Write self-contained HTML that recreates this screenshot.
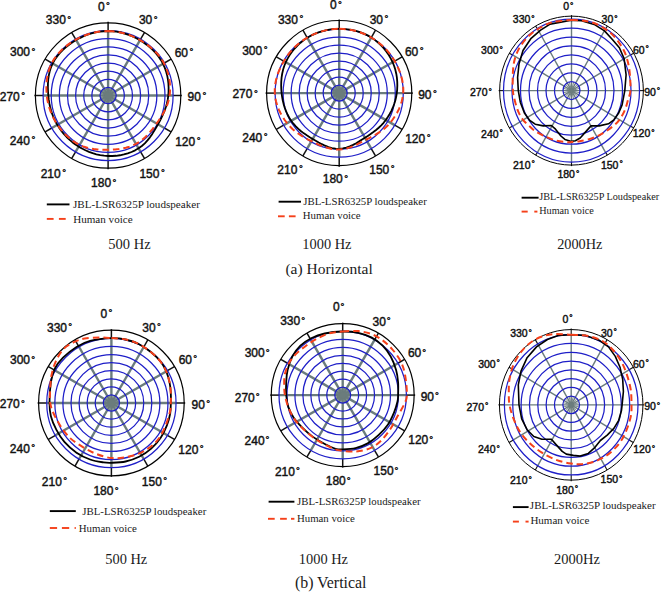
<!DOCTYPE html>
<html><head><meta charset="utf-8"><style>
html,body{margin:0;padding:0;background:#fff;}
body{width:662px;height:592px;overflow:hidden;}
svg{display:block;}
.ss text{font-family:"Liberation Sans",sans-serif;fill:#111;stroke:#111;stroke-width:0.42px;}
text.sf{font-family:"Liberation Serif",serif;fill:#1a1a1a;}
</style></head><body>
<svg width="662" height="592" viewBox="0 0 662 592">
<rect width="662" height="592" fill="#fff"/>
<line x1="108.1" y1="95.5" x2="108.1" y2="30.5" stroke="#6b7c7c" stroke-width="2.4"/>
<line x1="108.1" y1="30.5" x2="108.1" y2="21.8" stroke="#111" stroke-width="1.5"/>
<line x1="108.1" y1="95.5" x2="140.6" y2="39.21" stroke="#6b7c7c" stroke-width="2.4"/>
<line x1="140.6" y1="39.21" x2="144.45" y2="32.54" stroke="#111" stroke-width="1.5"/>
<line x1="108.1" y1="95.5" x2="164.39" y2="63" stroke="#6b7c7c" stroke-width="2.4"/>
<line x1="164.39" y1="63" x2="171.06" y2="59.15" stroke="#111" stroke-width="1.5"/>
<line x1="108.1" y1="95.5" x2="173.1" y2="95.5" stroke="#6b7c7c" stroke-width="2.4"/>
<line x1="173.1" y1="95.5" x2="181.8" y2="95.5" stroke="#111" stroke-width="1.5"/>
<line x1="108.1" y1="95.5" x2="164.39" y2="128" stroke="#6b7c7c" stroke-width="2.4"/>
<line x1="164.39" y1="128" x2="171.06" y2="131.85" stroke="#111" stroke-width="1.5"/>
<line x1="108.1" y1="95.5" x2="140.6" y2="151.79" stroke="#6b7c7c" stroke-width="2.4"/>
<line x1="140.6" y1="151.79" x2="144.45" y2="158.46" stroke="#111" stroke-width="1.5"/>
<line x1="108.1" y1="95.5" x2="108.1" y2="160.5" stroke="#6b7c7c" stroke-width="2.4"/>
<line x1="108.1" y1="160.5" x2="108.1" y2="169.2" stroke="#111" stroke-width="1.5"/>
<line x1="108.1" y1="95.5" x2="75.6" y2="151.79" stroke="#6b7c7c" stroke-width="2.4"/>
<line x1="75.6" y1="151.79" x2="71.75" y2="158.46" stroke="#111" stroke-width="1.5"/>
<line x1="108.1" y1="95.5" x2="51.81" y2="128" stroke="#6b7c7c" stroke-width="2.4"/>
<line x1="51.81" y1="128" x2="45.14" y2="131.85" stroke="#111" stroke-width="1.5"/>
<line x1="108.1" y1="95.5" x2="43.1" y2="95.5" stroke="#6b7c7c" stroke-width="2.4"/>
<line x1="43.1" y1="95.5" x2="34.4" y2="95.5" stroke="#111" stroke-width="1.5"/>
<line x1="108.1" y1="95.5" x2="51.81" y2="63" stroke="#6b7c7c" stroke-width="2.4"/>
<line x1="51.81" y1="63" x2="45.14" y2="59.15" stroke="#111" stroke-width="1.5"/>
<line x1="108.1" y1="95.5" x2="75.6" y2="39.21" stroke="#6b7c7c" stroke-width="2.4"/>
<line x1="75.6" y1="39.21" x2="71.75" y2="32.54" stroke="#111" stroke-width="1.5"/>
<line x1="108.1" y1="95.5" x2="110.2" y2="87.65" stroke="#6b7c7c" stroke-width="1.1"/>
<line x1="108.1" y1="95.5" x2="113.85" y2="89.75" stroke="#6b7c7c" stroke-width="1.1"/>
<line x1="108.1" y1="95.5" x2="115.95" y2="93.4" stroke="#6b7c7c" stroke-width="1.1"/>
<line x1="108.1" y1="95.5" x2="115.95" y2="97.6" stroke="#6b7c7c" stroke-width="1.1"/>
<line x1="108.1" y1="95.5" x2="113.85" y2="101.25" stroke="#6b7c7c" stroke-width="1.1"/>
<line x1="108.1" y1="95.5" x2="110.2" y2="103.35" stroke="#6b7c7c" stroke-width="1.1"/>
<line x1="108.1" y1="95.5" x2="106" y2="103.35" stroke="#6b7c7c" stroke-width="1.1"/>
<line x1="108.1" y1="95.5" x2="102.35" y2="101.25" stroke="#6b7c7c" stroke-width="1.1"/>
<line x1="108.1" y1="95.5" x2="100.25" y2="97.6" stroke="#6b7c7c" stroke-width="1.1"/>
<line x1="108.1" y1="95.5" x2="100.25" y2="93.4" stroke="#6b7c7c" stroke-width="1.1"/>
<line x1="108.1" y1="95.5" x2="102.35" y2="89.75" stroke="#6b7c7c" stroke-width="1.1"/>
<line x1="108.1" y1="95.5" x2="106" y2="87.65" stroke="#6b7c7c" stroke-width="1.1"/>
<ellipse cx="108.1" cy="95.5" rx="3.2" ry="3.2" fill="#6b7c7c"/>
<ellipse cx="108.1" cy="95.5" rx="8.12" ry="8.12" fill="none" stroke="#1e1ec8" stroke-width="1.25"/>
<ellipse cx="108.1" cy="95.5" rx="16.25" ry="16.25" fill="none" stroke="#1e1ec8" stroke-width="1.25"/>
<ellipse cx="108.1" cy="95.5" rx="24.38" ry="24.38" fill="none" stroke="#1e1ec8" stroke-width="1.25"/>
<ellipse cx="108.1" cy="95.5" rx="32.5" ry="32.5" fill="none" stroke="#1e1ec8" stroke-width="1.25"/>
<ellipse cx="108.1" cy="95.5" rx="40.62" ry="40.62" fill="none" stroke="#1e1ec8" stroke-width="1.25"/>
<ellipse cx="108.1" cy="95.5" rx="48.75" ry="48.75" fill="none" stroke="#1e1ec8" stroke-width="1.25"/>
<ellipse cx="108.1" cy="95.5" rx="56.88" ry="56.88" fill="none" stroke="#1e1ec8" stroke-width="1.25"/>
<ellipse cx="108.1" cy="95.5" rx="65" ry="65" fill="none" stroke="#1e1ec8" stroke-width="1.25"/>
<ellipse cx="108.1" cy="95.5" rx="72.7" ry="72.7" fill="none" stroke="#000" stroke-width="1.2"/>
<line x1="339.2" y1="93.1" x2="339.2" y2="29" stroke="#6b7c7c" stroke-width="2.4"/>
<line x1="339.2" y1="29" x2="339.2" y2="19.5" stroke="#111" stroke-width="1.5"/>
<line x1="339.2" y1="93.1" x2="371.25" y2="37.59" stroke="#6b7c7c" stroke-width="2.4"/>
<line x1="371.25" y1="37.59" x2="375.5" y2="30.23" stroke="#111" stroke-width="1.5"/>
<line x1="339.2" y1="93.1" x2="394.71" y2="61.05" stroke="#6b7c7c" stroke-width="2.4"/>
<line x1="394.71" y1="61.05" x2="402.07" y2="56.8" stroke="#111" stroke-width="1.5"/>
<line x1="339.2" y1="93.1" x2="403.3" y2="93.1" stroke="#6b7c7c" stroke-width="2.4"/>
<line x1="403.3" y1="93.1" x2="412.8" y2="93.1" stroke="#111" stroke-width="1.5"/>
<line x1="339.2" y1="93.1" x2="394.71" y2="125.15" stroke="#6b7c7c" stroke-width="2.4"/>
<line x1="394.71" y1="125.15" x2="402.07" y2="129.4" stroke="#111" stroke-width="1.5"/>
<line x1="339.2" y1="93.1" x2="371.25" y2="148.61" stroke="#6b7c7c" stroke-width="2.4"/>
<line x1="371.25" y1="148.61" x2="375.5" y2="155.97" stroke="#111" stroke-width="1.5"/>
<line x1="339.2" y1="93.1" x2="339.2" y2="157.2" stroke="#6b7c7c" stroke-width="2.4"/>
<line x1="339.2" y1="157.2" x2="339.2" y2="166.7" stroke="#111" stroke-width="1.5"/>
<line x1="339.2" y1="93.1" x2="307.15" y2="148.61" stroke="#6b7c7c" stroke-width="2.4"/>
<line x1="307.15" y1="148.61" x2="302.9" y2="155.97" stroke="#111" stroke-width="1.5"/>
<line x1="339.2" y1="93.1" x2="283.69" y2="125.15" stroke="#6b7c7c" stroke-width="2.4"/>
<line x1="283.69" y1="125.15" x2="276.33" y2="129.4" stroke="#111" stroke-width="1.5"/>
<line x1="339.2" y1="93.1" x2="275.1" y2="93.1" stroke="#6b7c7c" stroke-width="2.4"/>
<line x1="275.1" y1="93.1" x2="265.6" y2="93.1" stroke="#111" stroke-width="1.5"/>
<line x1="339.2" y1="93.1" x2="283.69" y2="61.05" stroke="#6b7c7c" stroke-width="2.4"/>
<line x1="283.69" y1="61.05" x2="276.33" y2="56.8" stroke="#111" stroke-width="1.5"/>
<line x1="339.2" y1="93.1" x2="307.15" y2="37.59" stroke="#6b7c7c" stroke-width="2.4"/>
<line x1="307.15" y1="37.59" x2="302.9" y2="30.23" stroke="#111" stroke-width="1.5"/>
<line x1="339.2" y1="93.1" x2="341.27" y2="85.36" stroke="#6b7c7c" stroke-width="1.1"/>
<line x1="339.2" y1="93.1" x2="344.87" y2="87.43" stroke="#6b7c7c" stroke-width="1.1"/>
<line x1="339.2" y1="93.1" x2="346.94" y2="91.03" stroke="#6b7c7c" stroke-width="1.1"/>
<line x1="339.2" y1="93.1" x2="346.94" y2="95.17" stroke="#6b7c7c" stroke-width="1.1"/>
<line x1="339.2" y1="93.1" x2="344.87" y2="98.77" stroke="#6b7c7c" stroke-width="1.1"/>
<line x1="339.2" y1="93.1" x2="341.27" y2="100.84" stroke="#6b7c7c" stroke-width="1.1"/>
<line x1="339.2" y1="93.1" x2="337.13" y2="100.84" stroke="#6b7c7c" stroke-width="1.1"/>
<line x1="339.2" y1="93.1" x2="333.53" y2="98.77" stroke="#6b7c7c" stroke-width="1.1"/>
<line x1="339.2" y1="93.1" x2="331.46" y2="95.17" stroke="#6b7c7c" stroke-width="1.1"/>
<line x1="339.2" y1="93.1" x2="331.46" y2="91.03" stroke="#6b7c7c" stroke-width="1.1"/>
<line x1="339.2" y1="93.1" x2="333.53" y2="87.43" stroke="#6b7c7c" stroke-width="1.1"/>
<line x1="339.2" y1="93.1" x2="337.13" y2="85.36" stroke="#6b7c7c" stroke-width="1.1"/>
<ellipse cx="339.2" cy="93.1" rx="3.2" ry="3.2" fill="#6b7c7c"/>
<ellipse cx="339.2" cy="93.1" rx="8.01" ry="8.01" fill="none" stroke="#1e1ec8" stroke-width="1.25"/>
<ellipse cx="339.2" cy="93.1" rx="16.02" ry="16.02" fill="none" stroke="#1e1ec8" stroke-width="1.25"/>
<ellipse cx="339.2" cy="93.1" rx="24.04" ry="24.04" fill="none" stroke="#1e1ec8" stroke-width="1.25"/>
<ellipse cx="339.2" cy="93.1" rx="32.05" ry="32.05" fill="none" stroke="#1e1ec8" stroke-width="1.25"/>
<ellipse cx="339.2" cy="93.1" rx="40.06" ry="40.06" fill="none" stroke="#1e1ec8" stroke-width="1.25"/>
<ellipse cx="339.2" cy="93.1" rx="48.07" ry="48.07" fill="none" stroke="#1e1ec8" stroke-width="1.25"/>
<ellipse cx="339.2" cy="93.1" rx="56.09" ry="56.09" fill="none" stroke="#1e1ec8" stroke-width="1.25"/>
<ellipse cx="339.2" cy="93.1" rx="64.1" ry="64.1" fill="none" stroke="#1e1ec8" stroke-width="1.25"/>
<ellipse cx="339.2" cy="93.1" rx="72.6" ry="72.6" fill="none" stroke="#000" stroke-width="1.2"/>
<line x1="571.5" y1="90.6" x2="571.5" y2="19.2" stroke="#6b7c7c" stroke-width="1.4"/>
<line x1="571.5" y1="19.2" x2="571.5" y2="15.1" stroke="#111" stroke-width="1.1"/>
<line x1="571.5" y1="90.6" x2="605.5" y2="28.77" stroke="#6b7c7c" stroke-width="1.4"/>
<line x1="605.5" y1="28.77" x2="607.42" y2="26.08" stroke="#111" stroke-width="1.1"/>
<line x1="571.5" y1="90.6" x2="630.39" y2="54.9" stroke="#6b7c7c" stroke-width="1.4"/>
<line x1="630.39" y1="54.9" x2="633.72" y2="53.35" stroke="#111" stroke-width="1.1"/>
<line x1="571.5" y1="90.6" x2="639.5" y2="90.6" stroke="#6b7c7c" stroke-width="1.4"/>
<line x1="639.5" y1="90.6" x2="644.35" y2="90.6" stroke="#111" stroke-width="1.1"/>
<line x1="571.5" y1="90.6" x2="630.39" y2="126.3" stroke="#6b7c7c" stroke-width="1.4"/>
<line x1="630.39" y1="126.3" x2="633.72" y2="127.85" stroke="#111" stroke-width="1.1"/>
<line x1="571.5" y1="90.6" x2="605.5" y2="152.43" stroke="#6b7c7c" stroke-width="1.4"/>
<line x1="605.5" y1="152.43" x2="607.42" y2="155.12" stroke="#111" stroke-width="1.1"/>
<line x1="571.5" y1="90.6" x2="571.5" y2="162" stroke="#6b7c7c" stroke-width="1.4"/>
<line x1="571.5" y1="162" x2="571.5" y2="166.1" stroke="#111" stroke-width="1.1"/>
<line x1="571.5" y1="90.6" x2="537.5" y2="152.43" stroke="#6b7c7c" stroke-width="1.4"/>
<line x1="537.5" y1="152.43" x2="535.58" y2="155.12" stroke="#111" stroke-width="1.1"/>
<line x1="571.5" y1="90.6" x2="512.61" y2="126.3" stroke="#6b7c7c" stroke-width="1.4"/>
<line x1="512.61" y1="126.3" x2="509.28" y2="127.85" stroke="#111" stroke-width="1.1"/>
<line x1="571.5" y1="90.6" x2="503.5" y2="90.6" stroke="#6b7c7c" stroke-width="1.4"/>
<line x1="503.5" y1="90.6" x2="498.65" y2="90.6" stroke="#111" stroke-width="1.1"/>
<line x1="571.5" y1="90.6" x2="512.61" y2="54.9" stroke="#6b7c7c" stroke-width="1.4"/>
<line x1="512.61" y1="54.9" x2="509.28" y2="53.35" stroke="#111" stroke-width="1.1"/>
<line x1="571.5" y1="90.6" x2="537.5" y2="28.77" stroke="#6b7c7c" stroke-width="1.4"/>
<line x1="537.5" y1="28.77" x2="535.57" y2="26.08" stroke="#111" stroke-width="1.1"/>
<line x1="571.5" y1="90.6" x2="573.7" y2="81.98" stroke="#6b7c7c" stroke-width="0.9"/>
<line x1="571.5" y1="90.6" x2="577.51" y2="84.29" stroke="#6b7c7c" stroke-width="0.9"/>
<line x1="571.5" y1="90.6" x2="579.71" y2="88.29" stroke="#6b7c7c" stroke-width="0.9"/>
<line x1="571.5" y1="90.6" x2="579.71" y2="92.91" stroke="#6b7c7c" stroke-width="0.9"/>
<line x1="571.5" y1="90.6" x2="577.51" y2="96.91" stroke="#6b7c7c" stroke-width="0.9"/>
<line x1="571.5" y1="90.6" x2="573.7" y2="99.22" stroke="#6b7c7c" stroke-width="0.9"/>
<line x1="571.5" y1="90.6" x2="569.3" y2="99.22" stroke="#6b7c7c" stroke-width="0.9"/>
<line x1="571.5" y1="90.6" x2="565.49" y2="96.91" stroke="#6b7c7c" stroke-width="0.9"/>
<line x1="571.5" y1="90.6" x2="563.29" y2="92.91" stroke="#6b7c7c" stroke-width="0.9"/>
<line x1="571.5" y1="90.6" x2="563.29" y2="88.29" stroke="#6b7c7c" stroke-width="0.9"/>
<line x1="571.5" y1="90.6" x2="565.49" y2="84.29" stroke="#6b7c7c" stroke-width="0.9"/>
<line x1="571.5" y1="90.6" x2="569.3" y2="81.98" stroke="#6b7c7c" stroke-width="0.9"/>
<ellipse cx="571.5" cy="90.6" rx="2.6" ry="2.7" fill="#6b7c7c"/>
<ellipse cx="571.5" cy="90.6" rx="8.5" ry="8.93" fill="none" stroke="#1e1ec8" stroke-width="1.25"/>
<ellipse cx="571.5" cy="90.6" rx="17" ry="17.85" fill="none" stroke="#1e1ec8" stroke-width="1.25"/>
<ellipse cx="571.5" cy="90.6" rx="25.5" ry="26.78" fill="none" stroke="#1e1ec8" stroke-width="1.25"/>
<ellipse cx="571.5" cy="90.6" rx="34" ry="35.7" fill="none" stroke="#1e1ec8" stroke-width="1.25"/>
<ellipse cx="571.5" cy="90.6" rx="42.5" ry="44.62" fill="none" stroke="#1e1ec8" stroke-width="1.25"/>
<ellipse cx="571.5" cy="90.6" rx="51" ry="53.55" fill="none" stroke="#1e1ec8" stroke-width="1.25"/>
<ellipse cx="571.5" cy="90.6" rx="59.5" ry="62.48" fill="none" stroke="#1e1ec8" stroke-width="1.25"/>
<ellipse cx="571.5" cy="90.6" rx="68" ry="71.4" fill="none" stroke="#1e1ec8" stroke-width="1.25"/>
<ellipse cx="571.5" cy="90.6" rx="71.85" ry="74.5" fill="none" stroke="#000" stroke-width="1.0"/>
<line x1="111.4" y1="403" x2="111.4" y2="338.35" stroke="#6b7c7c" stroke-width="2.4"/>
<line x1="111.4" y1="338.35" x2="111.4" y2="329.2" stroke="#111" stroke-width="1.5"/>
<line x1="111.4" y1="403" x2="143.72" y2="347.01" stroke="#6b7c7c" stroke-width="2.4"/>
<line x1="143.72" y1="347.01" x2="147.8" y2="339.95" stroke="#111" stroke-width="1.5"/>
<line x1="111.4" y1="403" x2="167.39" y2="370.68" stroke="#6b7c7c" stroke-width="2.4"/>
<line x1="167.39" y1="370.68" x2="174.45" y2="366.6" stroke="#111" stroke-width="1.5"/>
<line x1="111.4" y1="403" x2="176.05" y2="403" stroke="#6b7c7c" stroke-width="2.4"/>
<line x1="176.05" y1="403" x2="185.2" y2="403" stroke="#111" stroke-width="1.5"/>
<line x1="111.4" y1="403" x2="167.39" y2="435.32" stroke="#6b7c7c" stroke-width="2.4"/>
<line x1="167.39" y1="435.32" x2="174.45" y2="439.4" stroke="#111" stroke-width="1.5"/>
<line x1="111.4" y1="403" x2="143.72" y2="458.99" stroke="#6b7c7c" stroke-width="2.4"/>
<line x1="143.72" y1="458.99" x2="147.8" y2="466.05" stroke="#111" stroke-width="1.5"/>
<line x1="111.4" y1="403" x2="111.4" y2="467.65" stroke="#6b7c7c" stroke-width="2.4"/>
<line x1="111.4" y1="467.65" x2="111.4" y2="476.8" stroke="#111" stroke-width="1.5"/>
<line x1="111.4" y1="403" x2="79.07" y2="458.99" stroke="#6b7c7c" stroke-width="2.4"/>
<line x1="79.07" y1="458.99" x2="75" y2="466.05" stroke="#111" stroke-width="1.5"/>
<line x1="111.4" y1="403" x2="55.41" y2="435.33" stroke="#6b7c7c" stroke-width="2.4"/>
<line x1="55.41" y1="435.33" x2="48.35" y2="439.4" stroke="#111" stroke-width="1.5"/>
<line x1="111.4" y1="403" x2="46.75" y2="403" stroke="#6b7c7c" stroke-width="2.4"/>
<line x1="46.75" y1="403" x2="37.6" y2="403" stroke="#111" stroke-width="1.5"/>
<line x1="111.4" y1="403" x2="55.41" y2="370.68" stroke="#6b7c7c" stroke-width="2.4"/>
<line x1="55.41" y1="370.68" x2="48.35" y2="366.6" stroke="#111" stroke-width="1.5"/>
<line x1="111.4" y1="403" x2="79.07" y2="347.01" stroke="#6b7c7c" stroke-width="2.4"/>
<line x1="79.07" y1="347.01" x2="75" y2="339.95" stroke="#111" stroke-width="1.5"/>
<line x1="111.4" y1="403" x2="113.49" y2="395.19" stroke="#6b7c7c" stroke-width="1.1"/>
<line x1="111.4" y1="403" x2="117.11" y2="397.29" stroke="#6b7c7c" stroke-width="1.1"/>
<line x1="111.4" y1="403" x2="119.21" y2="400.91" stroke="#6b7c7c" stroke-width="1.1"/>
<line x1="111.4" y1="403" x2="119.21" y2="405.09" stroke="#6b7c7c" stroke-width="1.1"/>
<line x1="111.4" y1="403" x2="117.11" y2="408.71" stroke="#6b7c7c" stroke-width="1.1"/>
<line x1="111.4" y1="403" x2="113.49" y2="410.81" stroke="#6b7c7c" stroke-width="1.1"/>
<line x1="111.4" y1="403" x2="109.31" y2="410.81" stroke="#6b7c7c" stroke-width="1.1"/>
<line x1="111.4" y1="403" x2="105.69" y2="408.71" stroke="#6b7c7c" stroke-width="1.1"/>
<line x1="111.4" y1="403" x2="103.59" y2="405.09" stroke="#6b7c7c" stroke-width="1.1"/>
<line x1="111.4" y1="403" x2="103.59" y2="400.91" stroke="#6b7c7c" stroke-width="1.1"/>
<line x1="111.4" y1="403" x2="105.69" y2="397.29" stroke="#6b7c7c" stroke-width="1.1"/>
<line x1="111.4" y1="403" x2="109.31" y2="395.19" stroke="#6b7c7c" stroke-width="1.1"/>
<ellipse cx="111.4" cy="403" rx="3.2" ry="3.2" fill="#6b7c7c"/>
<ellipse cx="111.4" cy="403" rx="8.08" ry="8.08" fill="none" stroke="#1e1ec8" stroke-width="1.25"/>
<ellipse cx="111.4" cy="403" rx="16.16" ry="16.16" fill="none" stroke="#1e1ec8" stroke-width="1.25"/>
<ellipse cx="111.4" cy="403" rx="24.24" ry="24.24" fill="none" stroke="#1e1ec8" stroke-width="1.25"/>
<ellipse cx="111.4" cy="403" rx="32.33" ry="32.33" fill="none" stroke="#1e1ec8" stroke-width="1.25"/>
<ellipse cx="111.4" cy="403" rx="40.41" ry="40.41" fill="none" stroke="#1e1ec8" stroke-width="1.25"/>
<ellipse cx="111.4" cy="403" rx="48.49" ry="48.49" fill="none" stroke="#1e1ec8" stroke-width="1.25"/>
<ellipse cx="111.4" cy="403" rx="56.57" ry="56.57" fill="none" stroke="#1e1ec8" stroke-width="1.25"/>
<ellipse cx="111.4" cy="403" rx="64.65" ry="64.65" fill="none" stroke="#1e1ec8" stroke-width="1.25"/>
<ellipse cx="111.4" cy="403" rx="72.8" ry="72.8" fill="none" stroke="#000" stroke-width="1.2"/>
<line x1="342.7" y1="395.1" x2="342.7" y2="331.4" stroke="#6b7c7c" stroke-width="2.4"/>
<line x1="342.7" y1="331.4" x2="342.7" y2="322.65" stroke="#111" stroke-width="1.5"/>
<line x1="342.7" y1="395.1" x2="374.55" y2="339.93" stroke="#6b7c7c" stroke-width="2.4"/>
<line x1="374.55" y1="339.93" x2="378.42" y2="333.22" stroke="#111" stroke-width="1.5"/>
<line x1="342.7" y1="395.1" x2="397.87" y2="363.25" stroke="#6b7c7c" stroke-width="2.4"/>
<line x1="397.87" y1="363.25" x2="404.58" y2="359.38" stroke="#111" stroke-width="1.5"/>
<line x1="342.7" y1="395.1" x2="406.4" y2="395.1" stroke="#6b7c7c" stroke-width="2.4"/>
<line x1="406.4" y1="395.1" x2="415.15" y2="395.1" stroke="#111" stroke-width="1.5"/>
<line x1="342.7" y1="395.1" x2="397.87" y2="426.95" stroke="#6b7c7c" stroke-width="2.4"/>
<line x1="397.87" y1="426.95" x2="404.58" y2="430.82" stroke="#111" stroke-width="1.5"/>
<line x1="342.7" y1="395.1" x2="374.55" y2="450.27" stroke="#6b7c7c" stroke-width="2.4"/>
<line x1="374.55" y1="450.27" x2="378.42" y2="456.98" stroke="#111" stroke-width="1.5"/>
<line x1="342.7" y1="395.1" x2="342.7" y2="458.8" stroke="#6b7c7c" stroke-width="2.4"/>
<line x1="342.7" y1="458.8" x2="342.7" y2="467.55" stroke="#111" stroke-width="1.5"/>
<line x1="342.7" y1="395.1" x2="310.85" y2="450.27" stroke="#6b7c7c" stroke-width="2.4"/>
<line x1="310.85" y1="450.27" x2="306.97" y2="456.98" stroke="#111" stroke-width="1.5"/>
<line x1="342.7" y1="395.1" x2="287.53" y2="426.95" stroke="#6b7c7c" stroke-width="2.4"/>
<line x1="287.53" y1="426.95" x2="280.82" y2="430.83" stroke="#111" stroke-width="1.5"/>
<line x1="342.7" y1="395.1" x2="279" y2="395.1" stroke="#6b7c7c" stroke-width="2.4"/>
<line x1="279" y1="395.1" x2="270.25" y2="395.1" stroke="#111" stroke-width="1.5"/>
<line x1="342.7" y1="395.1" x2="287.53" y2="363.25" stroke="#6b7c7c" stroke-width="2.4"/>
<line x1="287.53" y1="363.25" x2="280.82" y2="359.38" stroke="#111" stroke-width="1.5"/>
<line x1="342.7" y1="395.1" x2="310.85" y2="339.93" stroke="#6b7c7c" stroke-width="2.4"/>
<line x1="310.85" y1="339.93" x2="306.97" y2="333.22" stroke="#111" stroke-width="1.5"/>
<line x1="342.7" y1="395.1" x2="344.76" y2="387.41" stroke="#6b7c7c" stroke-width="1.1"/>
<line x1="342.7" y1="395.1" x2="348.33" y2="389.47" stroke="#6b7c7c" stroke-width="1.1"/>
<line x1="342.7" y1="395.1" x2="350.39" y2="393.04" stroke="#6b7c7c" stroke-width="1.1"/>
<line x1="342.7" y1="395.1" x2="350.39" y2="397.16" stroke="#6b7c7c" stroke-width="1.1"/>
<line x1="342.7" y1="395.1" x2="348.33" y2="400.73" stroke="#6b7c7c" stroke-width="1.1"/>
<line x1="342.7" y1="395.1" x2="344.76" y2="402.79" stroke="#6b7c7c" stroke-width="1.1"/>
<line x1="342.7" y1="395.1" x2="340.64" y2="402.79" stroke="#6b7c7c" stroke-width="1.1"/>
<line x1="342.7" y1="395.1" x2="337.07" y2="400.73" stroke="#6b7c7c" stroke-width="1.1"/>
<line x1="342.7" y1="395.1" x2="335.01" y2="397.16" stroke="#6b7c7c" stroke-width="1.1"/>
<line x1="342.7" y1="395.1" x2="335.01" y2="393.04" stroke="#6b7c7c" stroke-width="1.1"/>
<line x1="342.7" y1="395.1" x2="337.07" y2="389.47" stroke="#6b7c7c" stroke-width="1.1"/>
<line x1="342.7" y1="395.1" x2="340.64" y2="387.41" stroke="#6b7c7c" stroke-width="1.1"/>
<ellipse cx="342.7" cy="395.1" rx="3.2" ry="3.2" fill="#6b7c7c"/>
<ellipse cx="342.7" cy="395.1" rx="7.96" ry="7.96" fill="none" stroke="#1e1ec8" stroke-width="1.25"/>
<ellipse cx="342.7" cy="395.1" rx="15.93" ry="15.93" fill="none" stroke="#1e1ec8" stroke-width="1.25"/>
<ellipse cx="342.7" cy="395.1" rx="23.89" ry="23.89" fill="none" stroke="#1e1ec8" stroke-width="1.25"/>
<ellipse cx="342.7" cy="395.1" rx="31.85" ry="31.85" fill="none" stroke="#1e1ec8" stroke-width="1.25"/>
<ellipse cx="342.7" cy="395.1" rx="39.81" ry="39.81" fill="none" stroke="#1e1ec8" stroke-width="1.25"/>
<ellipse cx="342.7" cy="395.1" rx="47.78" ry="47.78" fill="none" stroke="#1e1ec8" stroke-width="1.25"/>
<ellipse cx="342.7" cy="395.1" rx="55.74" ry="55.74" fill="none" stroke="#1e1ec8" stroke-width="1.25"/>
<ellipse cx="342.7" cy="395.1" rx="63.7" ry="63.7" fill="none" stroke="#1e1ec8" stroke-width="1.25"/>
<ellipse cx="342.7" cy="395.1" rx="71.45" ry="71.45" fill="none" stroke="#000" stroke-width="1.2"/>
<line x1="571.2" y1="404.85" x2="571.2" y2="334.71" stroke="#6b7c7c" stroke-width="1.4"/>
<line x1="571.2" y1="334.71" x2="571.2" y2="328.55" stroke="#111" stroke-width="1.1"/>
<line x1="571.2" y1="404.85" x2="604.6" y2="344.11" stroke="#6b7c7c" stroke-width="1.4"/>
<line x1="604.6" y1="344.11" x2="607.08" y2="339.64" stroke="#111" stroke-width="1.1"/>
<line x1="571.2" y1="404.85" x2="629.05" y2="369.78" stroke="#6b7c7c" stroke-width="1.4"/>
<line x1="629.05" y1="369.78" x2="633.34" y2="367.2" stroke="#111" stroke-width="1.1"/>
<line x1="571.2" y1="404.85" x2="638" y2="404.85" stroke="#6b7c7c" stroke-width="1.4"/>
<line x1="638" y1="404.85" x2="643.95" y2="404.85" stroke="#111" stroke-width="1.1"/>
<line x1="571.2" y1="404.85" x2="629.05" y2="439.92" stroke="#6b7c7c" stroke-width="1.4"/>
<line x1="629.05" y1="439.92" x2="633.34" y2="442.5" stroke="#111" stroke-width="1.1"/>
<line x1="571.2" y1="404.85" x2="604.6" y2="465.59" stroke="#6b7c7c" stroke-width="1.4"/>
<line x1="604.6" y1="465.59" x2="607.08" y2="470.06" stroke="#111" stroke-width="1.1"/>
<line x1="571.2" y1="404.85" x2="571.2" y2="474.99" stroke="#6b7c7c" stroke-width="1.4"/>
<line x1="571.2" y1="474.99" x2="571.2" y2="481.15" stroke="#111" stroke-width="1.1"/>
<line x1="571.2" y1="404.85" x2="537.8" y2="465.59" stroke="#6b7c7c" stroke-width="1.4"/>
<line x1="537.8" y1="465.59" x2="535.33" y2="470.06" stroke="#111" stroke-width="1.1"/>
<line x1="571.2" y1="404.85" x2="513.35" y2="439.92" stroke="#6b7c7c" stroke-width="1.4"/>
<line x1="513.35" y1="439.92" x2="509.06" y2="442.5" stroke="#111" stroke-width="1.1"/>
<line x1="571.2" y1="404.85" x2="504.4" y2="404.85" stroke="#6b7c7c" stroke-width="1.4"/>
<line x1="504.4" y1="404.85" x2="498.45" y2="404.85" stroke="#111" stroke-width="1.1"/>
<line x1="571.2" y1="404.85" x2="513.35" y2="369.78" stroke="#6b7c7c" stroke-width="1.4"/>
<line x1="513.35" y1="369.78" x2="509.06" y2="367.2" stroke="#111" stroke-width="1.1"/>
<line x1="571.2" y1="404.85" x2="537.8" y2="344.11" stroke="#6b7c7c" stroke-width="1.4"/>
<line x1="537.8" y1="344.11" x2="535.33" y2="339.64" stroke="#111" stroke-width="1.1"/>
<line x1="571.2" y1="404.85" x2="573.36" y2="396.38" stroke="#6b7c7c" stroke-width="0.9"/>
<line x1="571.2" y1="404.85" x2="577.1" y2="398.65" stroke="#6b7c7c" stroke-width="0.9"/>
<line x1="571.2" y1="404.85" x2="579.27" y2="402.58" stroke="#6b7c7c" stroke-width="0.9"/>
<line x1="571.2" y1="404.85" x2="579.27" y2="407.12" stroke="#6b7c7c" stroke-width="0.9"/>
<line x1="571.2" y1="404.85" x2="577.1" y2="411.05" stroke="#6b7c7c" stroke-width="0.9"/>
<line x1="571.2" y1="404.85" x2="573.36" y2="413.32" stroke="#6b7c7c" stroke-width="0.9"/>
<line x1="571.2" y1="404.85" x2="569.04" y2="413.32" stroke="#6b7c7c" stroke-width="0.9"/>
<line x1="571.2" y1="404.85" x2="565.3" y2="411.05" stroke="#6b7c7c" stroke-width="0.9"/>
<line x1="571.2" y1="404.85" x2="563.13" y2="407.12" stroke="#6b7c7c" stroke-width="0.9"/>
<line x1="571.2" y1="404.85" x2="563.13" y2="402.58" stroke="#6b7c7c" stroke-width="0.9"/>
<line x1="571.2" y1="404.85" x2="565.3" y2="398.65" stroke="#6b7c7c" stroke-width="0.9"/>
<line x1="571.2" y1="404.85" x2="569.04" y2="396.38" stroke="#6b7c7c" stroke-width="0.9"/>
<ellipse cx="571.2" cy="404.85" rx="2.6" ry="2.7" fill="#6b7c7c"/>
<ellipse cx="571.2" cy="404.85" rx="8.35" ry="8.77" fill="none" stroke="#1e1ec8" stroke-width="1.25"/>
<ellipse cx="571.2" cy="404.85" rx="16.7" ry="17.54" fill="none" stroke="#1e1ec8" stroke-width="1.25"/>
<ellipse cx="571.2" cy="404.85" rx="25.05" ry="26.3" fill="none" stroke="#1e1ec8" stroke-width="1.25"/>
<ellipse cx="571.2" cy="404.85" rx="33.4" ry="35.07" fill="none" stroke="#1e1ec8" stroke-width="1.25"/>
<ellipse cx="571.2" cy="404.85" rx="41.75" ry="43.84" fill="none" stroke="#1e1ec8" stroke-width="1.25"/>
<ellipse cx="571.2" cy="404.85" rx="50.1" ry="52.6" fill="none" stroke="#1e1ec8" stroke-width="1.25"/>
<ellipse cx="571.2" cy="404.85" rx="58.45" ry="61.37" fill="none" stroke="#1e1ec8" stroke-width="1.25"/>
<ellipse cx="571.2" cy="404.85" rx="66.8" ry="70.14" fill="none" stroke="#1e1ec8" stroke-width="1.25"/>
<ellipse cx="571.2" cy="404.85" rx="71.75" ry="75.3" fill="none" stroke="#000" stroke-width="1.0"/>
<path d="M108.1,31.1 L112.31,31.27 L116.49,31.73 L120.63,32.49 L124.7,33.54 L128.69,34.85 L132.58,36.41 L136.35,38.21 L140,40.25 L143.52,42.49 L146.91,44.92 L150.14,47.56 L153.19,50.41 L156.03,53.47 L158.63,56.73 L160.97,60.18 L163.01,63.8 L164.72,67.58 L166.1,71.47 L167.17,75.45 L167.93,79.47 L168.4,83.51 L168.6,87.53 L168.56,91.54 L168.3,95.5 L167.78,99.41 L166.96,103.25 L165.89,106.99 L164.59,110.64 L163.13,114.18 L161.51,117.62 L159.79,120.99 L157.98,124.3 L156.13,127.59 L154.21,130.88 L152.16,134.14 L149.94,137.34 L147.49,140.42 L144.8,143.33 L141.83,145.99 L138.6,148.33 L135.14,150.33 L131.51,152.02 L127.75,153.4 L123.9,154.48 L119.99,155.26 L116.03,155.77 L112.07,156.01 L108.1,156 L104.15,155.72 L100.25,155.15 L96.4,154.31 L92.64,153.2 L88.97,151.86 L85.4,150.3 L81.94,148.54 L78.6,146.6 L75.38,144.47 L72.3,142.16 L69.37,139.66 L66.6,137 L64,134.18 L61.57,131.2 L59.32,128.09 L57.26,124.85 L55.41,121.48 L53.77,118 L52.35,114.42 L51.14,110.76 L50.14,107.03 L49.33,103.24 L48.72,99.39 L48.3,95.5 L48.02,91.56 L47.89,87.57 L47.95,83.53 L48.24,79.46 L48.83,75.38 L49.74,71.32 L51.01,67.35 L52.67,63.5 L54.72,59.83 L57.1,56.37 L59.76,53.11 L62.68,50.08 L65.8,47.27 L69.1,44.67 L72.54,42.28 L76.1,40.07 L79.78,38.07 L83.57,36.28 L87.47,34.74 L91.47,33.45 L95.55,32.43 L99.7,31.69 L103.89,31.24Z" fill="none" stroke="#000" stroke-width="1.8" stroke-linejoin="round"/>
<path d="M108.1,31.1 L112.31,31.28 L116.49,31.75 L120.63,32.5 L124.71,33.52 L128.7,34.8 L132.61,36.33 L136.41,38.09 L140.1,40.07 L143.68,42.25 L147.15,44.61 L150.48,47.18 L153.65,49.95 L156.62,52.95 L159.35,56.17 L161.81,59.61 L163.96,63.25 L165.78,67.06 L167.28,70.99 L168.46,75.01 L169.32,79.1 L169.85,83.22 L170.07,87.34 L169.99,91.44 L169.6,95.5 L168.86,99.48 L167.76,103.35 L166.34,107.09 L164.67,110.66 L162.81,114.07 L160.81,117.33 L158.73,120.47 L156.6,123.5 L154.45,126.47 L152.23,129.37 L149.93,132.18 L147.49,134.89 L144.9,137.46 L142.13,139.85 L139.18,142.02 L136.05,143.91 L132.75,145.49 L129.34,146.78 L125.85,147.79 L122.32,148.55 L118.76,149.1 L115.2,149.47 L111.65,149.69 L108.1,149.8 L104.54,149.82 L100.96,149.73 L97.36,149.49 L93.75,149.07 L90.14,148.42 L86.55,147.52 L83.03,146.34 L79.6,144.86 L76.3,143.09 L73.14,141.06 L70.13,138.8 L67.27,136.33 L64.57,133.67 L62.04,130.85 L59.66,127.87 L57.44,124.75 L55.38,121.5 L53.51,118.11 L51.84,114.6 L50.37,110.97 L49.13,107.23 L48.11,103.4 L47.33,99.48 L46.8,95.5 L46.48,91.46 L46.37,87.37 L46.5,83.25 L46.9,79.1 L47.61,74.97 L48.65,70.87 L50.04,66.87 L51.81,63 L53.94,59.31 L56.4,55.83 L59.15,52.57 L62.15,49.55 L65.35,46.75 L68.72,44.17 L72.23,41.81 L75.85,39.64 L79.59,37.68 L83.43,35.95 L87.38,34.47 L91.42,33.25 L95.53,32.3 L99.69,31.61 L103.89,31.21Z" fill="none" stroke="#f5401a" stroke-width="2.0" stroke-dasharray="6.5 4"/>
<path d="M339.2,28.8 L343.41,28.91 L347.6,29.28 L351.76,29.93 L355.88,30.86 L359.91,32.08 L363.85,33.6 L367.65,35.4 L371.3,37.5 L374.76,39.87 L378.03,42.5 L381.07,45.35 L383.89,48.41 L386.46,51.65 L388.78,55.06 L390.84,58.6 L392.63,62.25 L394.14,66 L395.35,69.84 L396.27,73.73 L396.9,77.64 L397.25,81.55 L397.34,85.45 L397.18,89.3 L396.8,93.1 L396.18,96.83 L395.31,100.49 L394.21,104.04 L392.89,107.49 L391.38,110.81 L389.68,114.01 L387.81,117.07 L385.79,120 L383.6,122.77 L381.22,125.34 L378.7,127.74 L376.08,129.98 L373.37,132.06 L370.6,134.02 L367.79,135.89 L364.95,137.7 L362.09,139.52 L359.2,141.38 L356.2,143.19 L353.08,144.9 L349.8,146.4 L346.38,147.61 L342.83,148.44 L339.2,148.8 L335.56,148.64 L331.97,148.02 L328.48,147.01 L325.1,145.71 L321.86,144.18 L318.73,142.51 L315.7,140.76 L312.7,139 L309.72,137.22 L306.79,135.34 L303.9,133.35 L301.09,131.21 L298.38,128.9 L295.81,126.4 L293.41,123.7 L291.22,120.8 L289.27,117.72 L287.54,114.5 L286.02,111.15 L284.73,107.7 L283.64,104.15 L282.77,100.53 L282.09,96.84 L281.6,93.1 L281.29,89.3 L281.16,85.46 L281.25,81.57 L281.58,77.66 L282.18,73.74 L283.06,69.85 L284.25,66 L285.77,62.25 L287.58,58.61 L289.67,55.1 L292.03,51.73 L294.63,48.53 L297.47,45.52 L300.53,42.71 L303.8,40.12 L307.25,37.76 L310.88,35.66 L314.66,33.84 L318.56,32.3 L322.57,31.05 L326.66,30.07 L330.81,29.37 L335,28.95Z" fill="none" stroke="#000" stroke-width="1.8" stroke-linejoin="round"/>
<path d="M339.2,28.8 L343.41,28.93 L347.59,29.34 L351.74,30.04 L355.84,31.01 L359.86,32.25 L363.78,33.75 L367.6,35.5 L371.3,37.5 L374.86,39.74 L378.25,42.2 L381.48,44.89 L384.52,47.78 L387.37,50.86 L390,54.12 L392.43,57.53 L394.63,61.1 L396.62,64.78 L398.42,68.57 L400,72.46 L401.31,76.46 L402.32,80.54 L403,84.7 L403.3,88.9 L403.2,93.1 L402.68,97.26 L401.77,101.34 L400.5,105.29 L398.92,109.1 L397.07,112.74 L394.99,116.21 L392.72,119.49 L390.3,122.6 L387.68,125.49 L384.84,128.12 L381.85,130.5 L378.74,132.64 L375.59,134.59 L372.41,136.38 L369.24,138.06 L366.1,139.69 L362.98,141.33 L359.86,142.97 L356.67,144.57 L353.39,146.06 L350,147.38 L346.49,148.44 L342.87,149.17 L339.2,149.5 L335.51,149.4 L331.85,148.91 L328.26,148.1 L324.75,147.02 L321.33,145.73 L317.99,144.3 L314.71,142.76 L311.45,141.16 L308.19,139.52 L304.93,137.76 L301.7,135.86 L298.52,133.78 L295.42,131.49 L292.45,128.97 L289.65,126.21 L287.07,123.2 L284.69,119.98 L282.48,116.59 L280.47,113.04 L278.71,109.31 L277.22,105.43 L276.05,101.41 L275.23,97.29 L274.8,93.1 L274.78,88.88 L275.16,84.67 L275.91,80.51 L276.99,76.43 L278.36,72.45 L279.99,68.57 L281.83,64.81 L283.86,61.15 L286.08,57.61 L288.52,54.21 L291.17,50.98 L294.02,47.92 L297.05,45.04 L300.27,42.37 L303.66,39.91 L307.2,37.67 L310.88,35.67 L314.68,33.91 L318.59,32.39 L322.59,31.12 L326.67,30.13 L330.81,29.4 L335,28.96Z" fill="none" stroke="#f5401a" stroke-width="2.0" stroke-dasharray="6.5 4"/>
<path d="M571.4,20.1 L581.5,20.8 L595,24.8 L604.5,30.9 L612.6,39.7 L619.4,47.8 L624.1,58.6 L626.1,74.8 L624.8,90.6 L622.1,104.9 L618.7,113 L613.9,119.8 L608.5,123.8 L599.1,125.9 L591,125.9 L585.6,131.9 L580.2,138 L575.4,140.7 L571.4,141.4 L564.9,139.4 L560.9,136 L555.5,129.2 L551.4,125.5 L543.3,125.9 L535.2,124.2 L529.8,120.5 L524.4,113 L520.3,102.2 L518.3,90.6 L517.6,77.5 L519,64 L523,50.5 L531.1,38.3 L540.6,30.2 L550.1,24.1Z" fill="none" stroke="#000" stroke-width="1.6" stroke-linejoin="round"/>
<path d="M571.4,20.1C577.32,19.98 583.23,20.28 588.3,21.4C593.37,22.52 597.75,24.55 601.8,26.8C605.85,29.05 609.45,31.85 612.6,34.9C615.75,37.95 618.45,41.6 620.7,45.1C622.95,48.6 624.63,51.62 626.1,55.9C627.57,60.18 628.78,65.03 629.5,70.8C630.22,76.57 630.63,85.72 630.4,90.5C630.17,95.28 629.03,96.2 628.1,99.5C627.17,102.8 626.25,106.92 624.8,110.3C623.35,113.68 621.43,117.1 619.4,119.8C617.37,122.5 615.77,124.03 612.6,126.5C609.43,128.97 604.45,132.45 600.4,134.6C596.35,136.75 591.9,138.27 588.3,139.4C584.7,140.53 581.62,140.95 578.8,141.4C575.98,141.85 573.48,141.98 571.4,142.1C569.32,142.22 568.73,142.33 566.3,142.1C563.87,141.87 559.95,141.48 556.8,140.7C553.65,139.92 550.78,138.85 547.4,137.4C544.02,135.95 539.43,133.82 536.5,132C533.57,130.18 532.05,128.53 529.8,126.5C527.55,124.47 524.92,122.27 523,119.8C521.08,117.33 519.65,114.85 518.3,111.7C516.95,108.55 515.8,104.42 514.9,100.9C514,97.38 513.23,95.4 512.9,90.6C512.57,85.8 512.57,77.43 512.9,72.1C513.23,66.77 513.67,62.88 514.9,58.6C516.13,54.32 517.82,50.33 520.3,46.4C522.78,42.47 526.42,38.15 529.8,35C533.18,31.85 536.77,29.65 540.6,27.5C544.43,25.35 547.67,23.33 552.8,22.1C557.93,20.87 565.48,20.22 571.4,20.1Z" fill="none" stroke="#f5401a" stroke-width="2.0" stroke-dasharray="6.5 4"/>
<path d="M111.4,338.1C117.32,337.88 120.98,338.48 125.6,339.5C130.22,340.52 134.83,342.07 139.1,344.2C143.37,346.33 147.6,349.37 151.2,352.3C154.8,355.23 158.22,358.65 160.7,361.8C163.18,364.95 164.63,367.82 166.1,371.2C167.57,374.58 168.72,378.48 169.5,382.1C170.28,385.72 170.58,389.42 170.8,392.9C171.02,396.38 170.9,399.57 170.8,403C170.7,406.43 170.87,409.72 170.2,413.5C169.53,417.28 168.38,421.65 166.8,425.7C165.22,429.75 163.3,433.98 160.7,437.8C158.1,441.62 154.8,445.43 151.2,448.6C147.6,451.77 143.37,454.65 139.1,456.8C134.83,458.95 130.22,460.5 125.6,461.5C120.98,462.5 115.07,462.65 111.4,462.8C107.73,462.95 107.15,462.95 103.6,462.4C100.05,461.85 94.62,461.12 90.1,459.5C85.58,457.88 80.78,455.63 76.5,452.7C72.22,449.77 67.77,445.73 64.4,441.9C61.03,438.07 58.55,433.98 56.3,429.7C54.05,425.42 52.03,420.65 50.9,416.2C49.77,411.75 49.5,408.68 49.5,403C49.5,397.32 50,387.85 50.9,382.1C51.8,376.35 52.88,372.57 54.9,368.5C56.92,364.43 59.4,361.3 63,357.7C66.6,354.1 71.98,349.72 76.5,346.9C81.02,344.08 84.28,342.27 90.1,340.8C95.92,339.33 105.48,338.32 111.4,338.1Z" fill="none" stroke="#000" stroke-width="1.8" stroke-linejoin="round"/>
<path d="M111.4,338.1C115.75,338.43 120.98,338.48 125.6,339.5C130.22,340.52 134.83,342.07 139.1,344.2C143.37,346.33 147.6,349.37 151.2,352.3C154.8,355.23 158.22,358.65 160.7,361.8C163.18,364.95 164.63,367.82 166.1,371.2C167.57,374.58 168.72,378.48 169.5,382.1C170.28,385.72 170.58,389.42 170.8,392.9C171.02,396.38 170.9,400.02 170.8,403C170.7,405.98 170.98,407.25 170.2,410.8C169.42,414.35 167.9,419.8 166.1,424.3C164.3,428.8 162.1,433.97 159.4,437.8C156.7,441.63 153.52,444.58 149.9,447.3C146.28,450.02 141.98,452.42 137.7,454.1C133.42,455.78 128.58,456.73 124.2,457.4C119.82,458.07 115.97,458.65 111.4,458.1C106.83,457.55 101.48,455.9 96.8,454.1C92.12,452.3 87.8,450.02 83.3,447.3C78.8,444.58 73.63,441.4 69.8,437.8C65.97,434.2 63,429.75 60.3,425.7C57.6,421.65 55.28,417.28 53.6,413.5C51.92,409.72 50.77,407.12 50.2,403C49.63,398.88 49.98,393.42 50.2,388.8C50.42,384.18 50.6,379.8 51.5,375.3C52.4,370.8 53.68,366.08 55.6,361.8C57.52,357.52 59.97,352.87 63,349.6C66.03,346.33 70.2,344.05 73.8,342.2C77.4,340.35 80.32,339.28 84.6,338.5C88.88,337.72 95.03,337.57 99.5,337.5C103.97,337.43 107.05,337.77 111.4,338.1Z" fill="none" stroke="#f5401a" stroke-width="2.0" stroke-dasharray="6.5 4"/>
<path d="M342.7,331.5C348.28,331.38 353.45,331.78 358.3,332.8C363.15,333.82 367.75,335.45 371.8,337.6C375.85,339.75 379.45,342.55 382.6,345.7C385.75,348.85 388.45,352.45 390.7,356.5C392.95,360.55 394.87,365.72 396.1,370C397.33,374.28 397.77,378.03 398.1,382.2C398.43,386.37 398.2,391.78 398.1,395C398,398.22 398.17,398.62 397.5,401.5C396.83,404.38 395.68,408.48 394.1,412.3C392.52,416.12 390.6,420.58 388,424.4C385.4,428.22 381.88,432.03 378.5,435.2C375.12,438.37 371.52,441.25 367.7,443.4C363.88,445.55 359.77,447.1 355.6,448.1C351.43,449.1 346.03,449.28 342.7,449.4C339.37,449.52 338.58,449.7 335.6,448.8C332.62,447.9 328.63,446.03 324.8,444C320.97,441.97 316.43,439.42 312.6,436.6C308.77,433.78 304.95,430.25 301.8,427.1C298.65,423.95 295.95,421.07 293.7,417.7C291.45,414.33 289.55,410.68 288.3,406.9C287.05,403.12 286.55,399.12 286.2,395C285.85,390.88 285.97,386.37 286.2,382.2C286.43,378.03 286.58,374.28 287.6,370C288.62,365.72 290.17,360.55 292.3,356.5C294.43,352.45 297.25,348.75 300.4,345.7C303.55,342.65 307.13,340.23 311.2,338.2C315.27,336.17 319.55,334.62 324.8,333.5C330.05,332.38 337.12,331.62 342.7,331.5Z" fill="none" stroke="#000" stroke-width="1.8" stroke-linejoin="round"/>
<path d="M342.7,331.5C347.62,331.1 353.45,330.65 358.3,331.1C363.15,331.55 367.75,332.67 371.8,334.2C375.85,335.73 379.22,337.82 382.6,340.3C385.98,342.78 389.17,345.73 392.1,349.1C395.03,352.47 398.07,356.33 400.2,360.5C402.33,364.67 403.78,368.35 404.9,374.1C406.02,379.85 407.02,389.98 406.9,395C406.78,400.02 405.77,400.65 404.2,404.2C402.63,407.75 399.75,412.25 397.5,416.3C395.25,420.35 393.42,424.45 390.7,428.5C387.98,432.55 384.58,437.33 381.2,440.6C377.82,443.87 374.67,446.28 370.4,448.1C366.13,449.92 361,451.17 355.6,451.5C350.2,451.83 343.13,451.27 338,450.1C332.87,448.93 329.03,446.68 324.8,444.5C320.57,442.32 316.43,439.83 312.6,437C308.77,434.17 304.95,430.67 301.8,427.5C298.65,424.33 295.95,421.42 293.7,418C291.45,414.58 289.77,410.83 288.3,407C286.83,403.17 285.58,398.68 284.9,395C284.22,391.32 284.2,388.38 284.2,384.9C284.2,381.42 284,377.93 284.9,374.1C285.8,370.27 287.47,365.52 289.6,361.9C291.73,358.28 294.77,355.22 297.7,352.4C300.63,349.58 304.05,347.25 307.2,345C310.35,342.75 313,340.82 316.6,338.9C320.2,336.98 324.45,334.73 328.8,333.5C333.15,332.27 337.78,331.9 342.7,331.5Z" fill="none" stroke="#f5401a" stroke-width="2.0" stroke-dasharray="6.5 4"/>
<path d="M571.4,334.8 L585.6,335.4 L599.1,340.2 L608.5,346.9 L615.3,356.4 L620,367.2 L622.7,379.4 L623.4,391.5 L622.1,404.8 L621.4,410.8 L618.7,420.3 L613.9,428.4 L607.2,435.1 L600.4,440.5 L595,447.3 L588.3,453.4 L580.2,456.1 L573.4,455.4 L566.3,454.1 L562.2,451.4 L556.1,444.6 L551.4,439.2 L541.9,439.2 L533.8,436.5 L527.1,429.7 L521.7,418.9 L519,404.9 L518.3,384.8 L521,371.2 L527.1,357.7 L536.5,346.9 L547.4,339.5 L558.2,335.4Z" fill="none" stroke="#000" stroke-width="1.6" stroke-linejoin="round"/>
<path d="M571.4,334.8C577.32,335.13 583.02,334.98 588.3,336.1C593.58,337.22 598.83,339.02 603.1,341.5C607.37,343.98 610.73,347.4 613.9,351C617.07,354.6 619.83,358.83 622.1,363.1C624.37,367.37 626.05,372.08 627.5,376.6C628.95,381.12 630.13,385.5 630.8,390.2C631.47,394.9 631.5,400.47 631.5,404.8C631.5,409.13 631.7,411.82 630.8,416.2C629.9,420.58 628,426.6 626.1,431.1C624.2,435.6 622.33,439.37 619.4,443.2C616.47,447.03 612.57,451.05 608.5,454.1C604.43,457.15 599.5,459.82 595,461.5C590.5,463.18 585.48,463.87 581.5,464.2C577.52,464.53 575.22,464.18 571.1,463.5C566.98,462.82 561.67,461.9 556.8,460.1C551.93,458.3 546.4,455.52 541.9,452.7C537.4,449.88 533.4,446.58 529.8,443.2C526.2,439.82 523,436.45 520.3,432.4C517.6,428.35 515.4,423.48 513.6,418.9C511.8,414.32 510.3,409.23 509.5,404.9C508.7,400.57 508.8,397.15 508.8,392.9C508.8,388.65 508.7,384.13 509.5,379.4C510.3,374.67 511.35,369.47 513.6,364.5C515.85,359.53 519.18,353.88 523,349.6C526.82,345.32 531.53,341.38 536.5,338.8C541.47,336.22 546.98,334.77 552.8,334.1C558.62,333.43 565.48,334.47 571.4,334.8Z" fill="none" stroke="#f5401a" stroke-width="2.0" stroke-dasharray="6.5 4"/>
<g class="ss">
<text x="97.88" y="10.85" font-size="12">0<tspan dx="1.5" dy="-1.68" font-size="9.6">°</tspan></text>
<text x="138.89" y="24.35" font-size="12">30<tspan dx="1.5" dy="-1.68" font-size="9.6">°</tspan></text>
<text x="174.64" y="56.75" font-size="12">60<tspan dx="1.5" dy="-1.68" font-size="9.6">°</tspan></text>
<text x="187.59" y="100.55" font-size="12">90<tspan dx="1.5" dy="-1.68" font-size="9.6">°</tspan></text>
<text x="175.14" y="145.65" font-size="12">120<tspan dx="1.5" dy="-1.68" font-size="9.6">°</tspan></text>
<text x="139.44" y="177.65" font-size="12">150<tspan dx="1.5" dy="-1.68" font-size="9.6">°</tspan></text>
<text x="91.04" y="187.25" font-size="12">180<tspan dx="1.5" dy="-1.68" font-size="9.6">°</tspan></text>
<text x="40.65" y="177.65" font-size="12">210<tspan dx="1.5" dy="-1.68" font-size="9.6">°</tspan></text>
<text x="9.85" y="144.65" font-size="12">240<tspan dx="1.5" dy="-1.68" font-size="9.6">°</tspan></text>
<text x="-0.25" y="100.85" font-size="12">270<tspan dx="1.5" dy="-1.68" font-size="9.6">°</tspan></text>
<text x="9.99" y="56.45" font-size="12">300<tspan dx="1.5" dy="-1.68" font-size="9.6">°</tspan></text>
<text x="45.79" y="24.25" font-size="12">330<tspan dx="1.5" dy="-1.68" font-size="9.6">°</tspan></text>
<text x="329.88" y="9.35" font-size="12">0<tspan dx="1.5" dy="-1.68" font-size="9.6">°</tspan></text>
<text x="369.69" y="23.85" font-size="12">30<tspan dx="1.5" dy="-1.68" font-size="9.6">°</tspan></text>
<text x="404.94" y="55.75" font-size="12">60<tspan dx="1.5" dy="-1.68" font-size="9.6">°</tspan></text>
<text x="418.19" y="98.55" font-size="12">90<tspan dx="1.5" dy="-1.68" font-size="9.6">°</tspan></text>
<text x="405.14" y="142.95" font-size="12">120<tspan dx="1.5" dy="-1.68" font-size="9.6">°</tspan></text>
<text x="369.24" y="173.95" font-size="12">150<tspan dx="1.5" dy="-1.68" font-size="9.6">°</tspan></text>
<text x="322.74" y="183.25" font-size="12">180<tspan dx="1.5" dy="-1.68" font-size="9.6">°</tspan></text>
<text x="277.35" y="174.15" font-size="12">210<tspan dx="1.5" dy="-1.68" font-size="9.6">°</tspan></text>
<text x="242.25" y="141.65" font-size="12">240<tspan dx="1.5" dy="-1.68" font-size="9.6">°</tspan></text>
<text x="232.45" y="98.45" font-size="12">270<tspan dx="1.5" dy="-1.68" font-size="9.6">°</tspan></text>
<text x="242.19" y="54.95" font-size="12">300<tspan dx="1.5" dy="-1.68" font-size="9.6">°</tspan></text>
<text x="277.89" y="23.55" font-size="12">330<tspan dx="1.5" dy="-1.68" font-size="9.6">°</tspan></text>
<text x="100.48" y="318.15" font-size="12">0<tspan dx="1.3" dy="-1.68" font-size="9.6">°</tspan></text>
<text x="142.29" y="331.85" font-size="12">30<tspan dx="1.3" dy="-1.68" font-size="9.6">°</tspan></text>
<text x="178.64" y="364.05" font-size="12">60<tspan dx="1.3" dy="-1.68" font-size="9.6">°</tspan></text>
<text x="191.59" y="408.75" font-size="12">90<tspan dx="1.3" dy="-1.68" font-size="9.6">°</tspan></text>
<text x="178.34" y="453.75" font-size="12">120<tspan dx="1.3" dy="-1.68" font-size="9.6">°</tspan></text>
<text x="141.84" y="485.75" font-size="12">150<tspan dx="1.3" dy="-1.68" font-size="9.6">°</tspan></text>
<text x="93.44" y="495.45" font-size="12">180<tspan dx="1.3" dy="-1.68" font-size="9.6">°</tspan></text>
<text x="41.85" y="485.75" font-size="12">210<tspan dx="1.3" dy="-1.68" font-size="9.6">°</tspan></text>
<text x="9.85" y="452.85" font-size="12">240<tspan dx="1.3" dy="-1.68" font-size="9.6">°</tspan></text>
<text x="-0.25" y="408.45" font-size="12">270<tspan dx="1.3" dy="-1.68" font-size="9.6">°</tspan></text>
<text x="9.99" y="364.25" font-size="12">300<tspan dx="1.3" dy="-1.68" font-size="9.6">°</tspan></text>
<text x="46.99" y="331.75" font-size="12">330<tspan dx="1.3" dy="-1.68" font-size="9.6">°</tspan></text>
<text x="332.88" y="311.35" font-size="12">0<tspan dx="1.0" dy="-1.68" font-size="9.6">°</tspan></text>
<text x="372.49" y="325.75" font-size="12">30<tspan dx="1.0" dy="-1.68" font-size="9.6">°</tspan></text>
<text x="407.94" y="357.45" font-size="12">60<tspan dx="1.0" dy="-1.68" font-size="9.6">°</tspan></text>
<text x="420.69" y="400.85" font-size="12">90<tspan dx="1.0" dy="-1.68" font-size="9.6">°</tspan></text>
<text x="408.24" y="444.35" font-size="12">120<tspan dx="1.0" dy="-1.68" font-size="9.6">°</tspan></text>
<text x="373.54" y="475.35" font-size="12">150<tspan dx="1.0" dy="-1.68" font-size="9.6">°</tspan></text>
<text x="325.74" y="485.45" font-size="12">180<tspan dx="1.0" dy="-1.68" font-size="9.6">°</tspan></text>
<text x="274.95" y="475.95" font-size="12">210<tspan dx="1.0" dy="-1.68" font-size="9.6">°</tspan></text>
<text x="244.55" y="444.95" font-size="12">240<tspan dx="1.0" dy="-1.68" font-size="9.6">°</tspan></text>
<text x="234.75" y="401.55" font-size="12">270<tspan dx="1.0" dy="-1.68" font-size="9.6">°</tspan></text>
<text x="244.69" y="357.45" font-size="12">300<tspan dx="1.0" dy="-1.68" font-size="9.6">°</tspan></text>
<text x="280.19" y="325.45" font-size="12">330<tspan dx="1.0" dy="-1.68" font-size="9.6">°</tspan></text>
<text x="563.14" y="10.45" font-size="10.5">0<tspan dx="0.9" dy="-1.47" font-size="8.4">°</tspan></text>
<text x="601.55" y="23.35" font-size="10.5">30<tspan dx="0.9" dy="-1.47" font-size="8.4">°</tspan></text>
<text x="633.02" y="53.75" font-size="10.5">60<tspan dx="0.9" dy="-1.47" font-size="8.4">°</tspan></text>
<text x="644.26" y="95.55" font-size="10.5">90<tspan dx="0.9" dy="-1.47" font-size="8.4">°</tspan></text>
<text x="632.75" y="137.35" font-size="10.5">120<tspan dx="0.9" dy="-1.47" font-size="8.4">°</tspan></text>
<text x="600.95" y="168.55" font-size="10.5">150<tspan dx="0.9" dy="-1.47" font-size="8.4">°</tspan></text>
<text x="557.45" y="178.25" font-size="10.5">180<tspan dx="0.9" dy="-1.47" font-size="8.4">°</tspan></text>
<text x="513.02" y="168.55" font-size="10.5">210<tspan dx="0.9" dy="-1.47" font-size="8.4">°</tspan></text>
<text x="481.12" y="137.85" font-size="10.5">240<tspan dx="0.9" dy="-1.47" font-size="8.4">°</tspan></text>
<text x="470.02" y="96.35" font-size="10.5">270<tspan dx="0.9" dy="-1.47" font-size="8.4">°</tspan></text>
<text x="481.05" y="54.05" font-size="10.5">300<tspan dx="0.9" dy="-1.47" font-size="8.4">°</tspan></text>
<text x="512.85" y="23.35" font-size="10.5">330<tspan dx="0.9" dy="-1.47" font-size="8.4">°</tspan></text>
<text x="562.44" y="322.75" font-size="10.5">0<tspan dx="0.9" dy="-1.47" font-size="8.4">°</tspan></text>
<text x="600.95" y="336.85" font-size="10.5">30<tspan dx="0.9" dy="-1.47" font-size="8.4">°</tspan></text>
<text x="632.92" y="367.65" font-size="10.5">60<tspan dx="0.9" dy="-1.47" font-size="8.4">°</tspan></text>
<text x="644.16" y="410.05" font-size="10.5">90<tspan dx="0.9" dy="-1.47" font-size="8.4">°</tspan></text>
<text x="633.25" y="453.35" font-size="10.5">120<tspan dx="0.9" dy="-1.47" font-size="8.4">°</tspan></text>
<text x="600.55" y="483.25" font-size="10.5">150<tspan dx="0.9" dy="-1.47" font-size="8.4">°</tspan></text>
<text x="556.25" y="493.55" font-size="10.5">180<tspan dx="0.9" dy="-1.47" font-size="8.4">°</tspan></text>
<text x="510.02" y="484.45" font-size="10.5">210<tspan dx="0.9" dy="-1.47" font-size="8.4">°</tspan></text>
<text x="478.02" y="453.45" font-size="10.5">240<tspan dx="0.9" dy="-1.47" font-size="8.4">°</tspan></text>
<text x="466.52" y="410.85" font-size="10.5">270<tspan dx="0.9" dy="-1.47" font-size="8.4">°</tspan></text>
<text x="478.15" y="367.75" font-size="10.5">300<tspan dx="0.9" dy="-1.47" font-size="8.4">°</tspan></text>
<text x="510.15" y="337.05" font-size="10.5">330<tspan dx="0.9" dy="-1.47" font-size="8.4">°</tspan></text>
</g>
<line x1="46.8" y1="204.4" x2="69.5" y2="204.4" stroke="#000" stroke-width="1.9"/>
<text x="72.97" y="208" font-size="11.1" class="sf">JBL-LSR6325P loudspeaker</text>
<line x1="46.8" y1="218.9" x2="53.6" y2="218.9" stroke="#f5401a" stroke-width="1.9"/>
<line x1="58.9" y1="218.9" x2="65.7" y2="218.9" stroke="#f5401a" stroke-width="1.9"/>
<text x="73.18" y="222.7" font-size="11.1" class="sf">Human voice</text>
<line x1="278.6" y1="201.7" x2="301" y2="201.7" stroke="#000" stroke-width="1.9"/>
<text x="303.27" y="204.8" font-size="10.8" class="sf">JBL-LSR6325P loudspeaker</text>
<line x1="278" y1="216.3" x2="284.7" y2="216.3" stroke="#f5401a" stroke-width="1.9"/>
<line x1="288.9" y1="216.3" x2="295.6" y2="216.3" stroke="#f5401a" stroke-width="1.9"/>
<text x="302.79" y="219.3" font-size="10.8" class="sf">Human voice</text>
<line x1="521.6" y1="197.7" x2="538.6" y2="197.7" stroke="#000" stroke-width="1.9"/>
<text x="539.29" y="199.8" font-size="10.2" class="sf">JBL-LSR6325P Loudspeaker</text>
<line x1="521.6" y1="211.6" x2="527.7" y2="211.6" stroke="#f5401a" stroke-width="1.9"/>
<line x1="534.3" y1="211.6" x2="537.4" y2="211.6" stroke="#f5401a" stroke-width="1.9"/>
<text x="539.21" y="213.7" font-size="10.2" class="sf">Human voice</text>
<line x1="49.8" y1="511.1" x2="75.8" y2="511.1" stroke="#000" stroke-width="1.9"/>
<text x="82.27" y="515.4" font-size="10.85" class="sf">JBL-LSR6325P loudspeaker</text>
<line x1="49.8" y1="528" x2="57.1" y2="528" stroke="#f5401a" stroke-width="1.9"/>
<line x1="61.9" y1="528" x2="69.2" y2="528" stroke="#f5401a" stroke-width="1.9"/>
<line x1="74.6" y1="528" x2="75.8" y2="528" stroke="#f5401a" stroke-width="1.9"/>
<text x="78.79" y="532.3" font-size="10.85" class="sf">Human voice</text>
<line x1="268.6" y1="501.7" x2="294.4" y2="501.7" stroke="#000" stroke-width="1.9"/>
<text x="297.07" y="504.8" font-size="10.8" class="sf">JBL-LSR6325P loudspeaker</text>
<line x1="268" y1="518.8" x2="274.7" y2="518.8" stroke="#f5401a" stroke-width="1.9"/>
<line x1="280.1" y1="518.8" x2="286.8" y2="518.8" stroke="#f5401a" stroke-width="1.9"/>
<line x1="291" y1="518.8" x2="294.4" y2="518.8" stroke="#f5401a" stroke-width="1.9"/>
<text x="296.99" y="522.3" font-size="10.8" class="sf">Human voice</text>
<line x1="512.9" y1="507.1" x2="528.6" y2="507.1" stroke="#000" stroke-width="1.9"/>
<text x="529.87" y="509.4" font-size="11.0" class="sf">JBL-LSR6325P loudspeaker</text>
<line x1="512.9" y1="521.6" x2="518.9" y2="521.6" stroke="#f5401a" stroke-width="1.9"/>
<line x1="525.5" y1="521.6" x2="528.6" y2="521.6" stroke="#f5401a" stroke-width="1.9"/>
<text x="530.38" y="523.5" font-size="11.0" class="sf">Human voice</text>
<text x="108.36" y="248.9" font-size="14.5" class="sf">500 Hz</text>
<text x="302.33" y="249" font-size="14.4" class="sf">1000 Hz</text>
<text x="557.17" y="248.9" font-size="14.3" class="sf">2000Hz</text>
<text x="285.42" y="274.4" font-size="15.5" class="sf">(a) Horizontal</text>
<text x="105.26" y="563.7" font-size="14.4" class="sf">500 Hz</text>
<text x="298.83" y="563.6" font-size="14.4" class="sf">1000 Hz</text>
<text x="553.96" y="563.6" font-size="14.5" class="sf">2000Hz</text>
<text x="294.9" y="588" font-size="15.9" class="sf">(b) Vertical</text>
</svg>
</body></html>
